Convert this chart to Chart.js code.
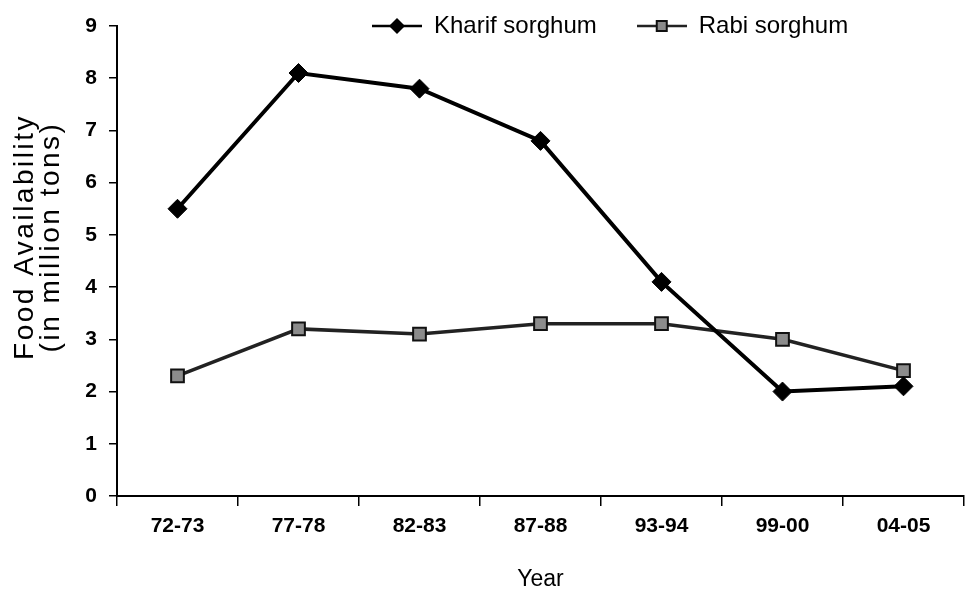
<!DOCTYPE html>
<html>
<head>
<meta charset="utf-8">
<script src="https://cdn.jsdelivr.net/npm/chart.js@4.4.1/dist/chart.umd.min.js"></script>
<style>
  html, body { margin: 0; padding: 0; background: #fff; }
  #wrap { width: 975px; height: 589px; }
</style>
</head>
<body>
<div id="wrap"><canvas id="chart" width="975" height="589"></canvas></div>
<script>
// values
const years = ['72-73', '77-78', '82-83', '87-88', '93-94', '99-00', '04-05'];
const kharif = [5.5, 8.1, 7.8, 6.8, 4.1, 2.0, 2.1];
const rabi = [2.3, 3.2, 3.1, 3.3, 3.3, 3.0, 2.4];
const yTicks = [0, 1, 2, 3, 4, 5, 6, 7, 8, 9];

const FONT = "'Liberation Sans', Arial, sans-serif";
const INK = '#000';

// small legend icons: line with the marker in the middle
function legendIcon(kind) {
    const c = document.createElement('canvas');
    c.width = 50; c.height = 20;
    const ctx = c.getContext('2d');
    ctx.strokeStyle = kind === 'diamond' ? '#000' : '#222';
    ctx.lineWidth = 2.5;
    ctx.beginPath(); ctx.moveTo(0, 10); ctx.lineTo(50, 10); ctx.stroke();
    if (kind === 'diamond') {
        ctx.fillStyle = '#000';
        ctx.beginPath();
        ctx.moveTo(25, 2); ctx.lineTo(33, 10); ctx.lineTo(25, 18); ctx.lineTo(17, 10);
        ctx.closePath(); ctx.fill();
    } else {
        ctx.fillStyle = '#8a8a8a';
        ctx.strokeStyle = '#111';
        ctx.lineWidth = 2;
        ctx.fillRect(20, 5, 10, 10);
        ctx.strokeRect(20, 5, 10, 10);
    }
    return c;
}
const icons = [legendIcon('diamond'), legendIcon('square')];

// legend sits right of centre in the original, so nudge it after layout;
// the y title is also spread out and sits a bit high there
const layoutTweaks = {
    id: 'layoutTweaks',
    beforeInit(chart) {
        const fit = chart.legend.fit;
        chart.legend.fit = function () {
            fit.bind(chart.legend)();
            this.height = 26;
        };
    },
    afterLayout(chart) {
        const lg = chart.legend;
        lg.left = 332;
        lg.right = 975;
        lg.top = -26;
        lg.bottom = 60;

        const y = chart.scales.y;
        if (!y._titleWrapped) {
            const drawTitle = y.drawTitle;
            y.drawTitle = function () {
                const ctx = this.ctx;
                ctx.save();
                ctx.translate(0, -24);
                ctx.letterSpacing = '2.5px';
                drawTitle.call(this);
                ctx.restore();
            };
            y._titleWrapped = true;
        }
    }
};

new Chart(document.getElementById('chart'), {
    type: 'line',
    data: {
        labels: years,
        datasets: [
            {
                label: 'Kharif sorghum',
                data: kharif,
                borderColor: '#000',
                backgroundColor: '#000',
                borderWidth: 4,
                pointStyle: 'rectRot',
                pointRadius: 9.5,
                pointHoverRadius: 9.5,
                pointBorderWidth: 1,
                tension: 0
            },
            {
                label: 'Rabi sorghum',
                data: rabi,
                borderColor: '#222',
                backgroundColor: '#8c8c8c',
                borderWidth: 3.5,
                pointStyle: 'rect',
                pointRadius: 9,
                pointHoverRadius: 9,
                pointBorderColor: '#111',
                pointBorderWidth: 2,
                tension: 0
            }
        ]
    },
    options: {
        responsive: false,
        animation: false,
        layout: { padding: { left: 0, right: 5, top: 0, bottom: 0 } },
        plugins: {
            tooltip: { enabled: false },
            legend: {
                position: 'top',
                align: 'start',
                labels: {
                    usePointStyle: true,
                    pointStyleWidth: 50,
                    padding: 40,
                    color: INK,
                    font: { family: FONT, size: 24 },
                    generateLabels(chart) {
                        return chart.data.datasets.map((ds, i) => ({
                            text: ds.label,
                            pointStyle: icons[i],
                            fillStyle: ds.backgroundColor,
                            strokeStyle: ds.borderColor,
                            lineWidth: 0,
                            fontColor: INK,
                            hidden: false,
                            datasetIndex: i
                        }));
                    }
                }
            }
        },
        scales: {
            x: {
                offset: true,
                border: { display: true, color: '#000', width: 2 },
                grid: { display: true, offset: true, drawOnChartArea: false, drawTicks: true, tickLength: 10, color: '#000', lineWidth: 1.5 },
                ticks: { color: INK, padding: 8, font: { family: FONT, size: 21, weight: 'bold' } },
                title: { display: true, text: 'Year', color: INK, padding: { top: 0, bottom: 0 }, font: { family: FONT, size: 23, lineHeight: 0.78 } },
                afterFit(scale) { scale.height = 93; }
            },
            y: {
                min: yTicks[0],
                max: yTicks[yTicks.length - 1],
                afterBuildTicks(scale) { scale.ticks = yTicks.map(v => ({ value: v })); },
                border: { display: true, color: '#000', width: 2 },
                grid: { display: true, drawOnChartArea: false, drawTicks: true, tickLength: 8, color: '#000', lineWidth: 1.5 },
                ticks: { color: INK, padding: 12, font: { family: FONT, size: 21, weight: 'bold' } },
                title: { display: true, text: ['Food Availability', '(in million tons)'], color: INK, padding: { top: 12, bottom: 0 }, font: { family: FONT, size: 28, lineHeight: 0.93 } },
                afterFit(scale) { scale.width = 117; }
            }
        }
    },
    plugins: [layoutTweaks]
});
</script>
</body>
</html>
